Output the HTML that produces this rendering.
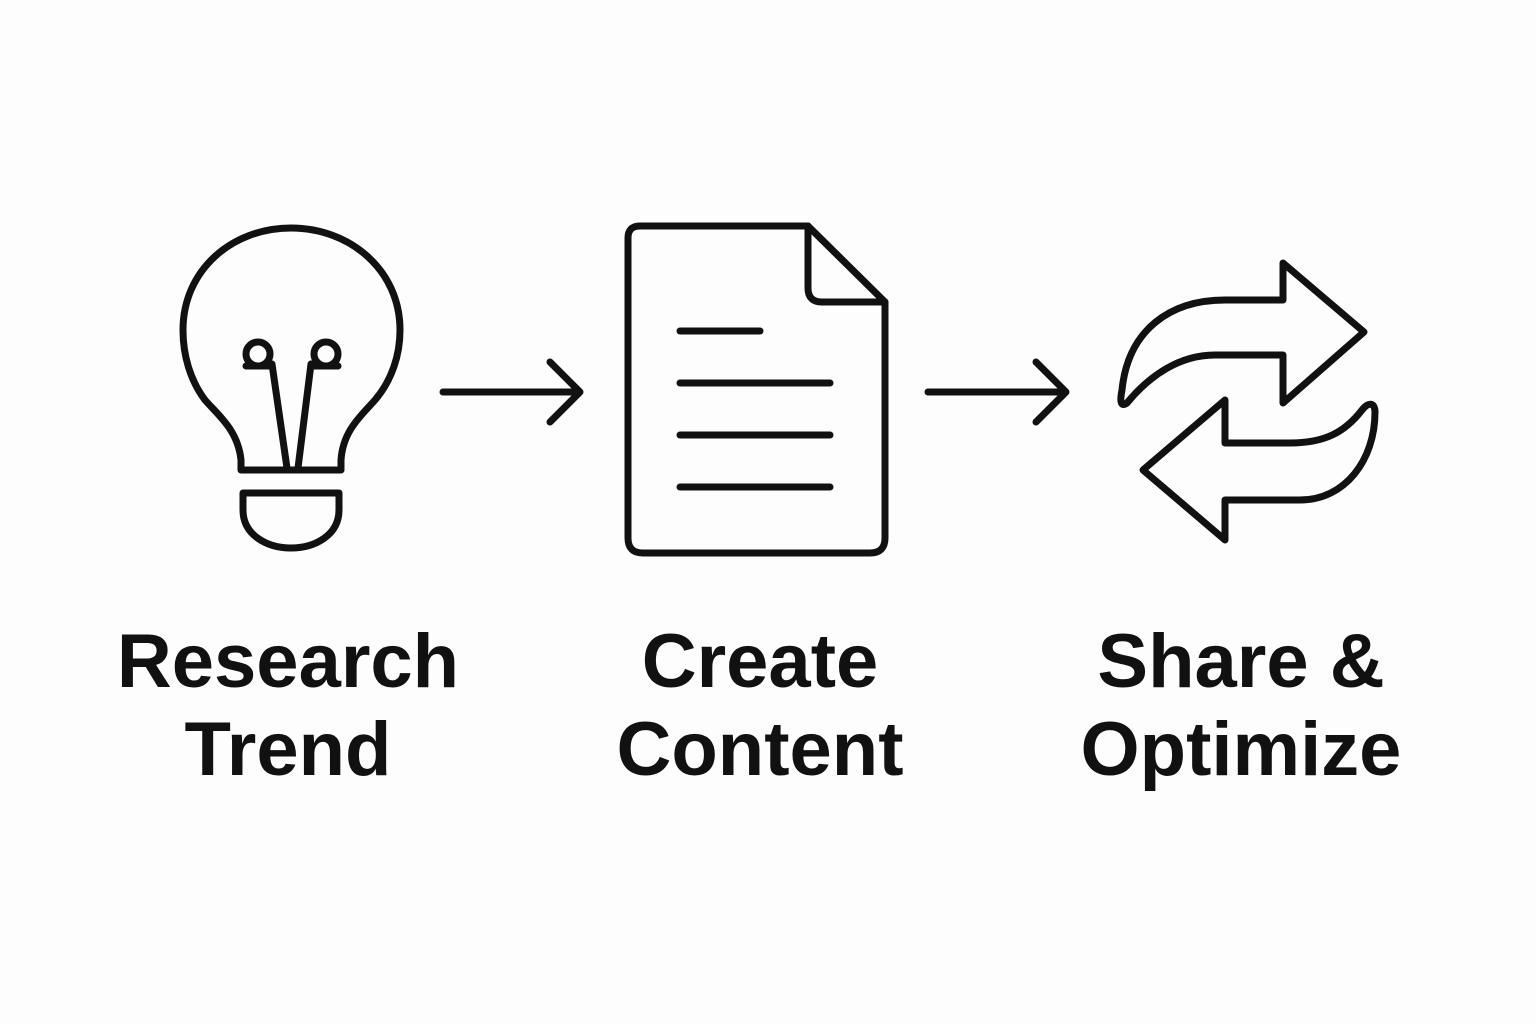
<!DOCTYPE html>
<html><head><meta charset="utf-8"><style>
html,body{margin:0;padding:0;background:#fdfdfd;}
.wrap{position:relative;width:1536px;height:1024px;overflow:hidden;}
svg{position:absolute;left:0;top:0;}
.lbl{position:absolute;width:500px;text-align:center;font-family:"Liberation Sans",sans-serif;font-weight:bold;font-size:76px;line-height:88px;color:#111;letter-spacing:0px;}
</style></head><body><div class="wrap">
<svg width="1536" height="1024" viewBox="0 0 1536 1024" fill="none" stroke="#111" stroke-width="7" stroke-linecap="round" stroke-linejoin="round">
<path d="M241,470 L241,460 C238,430 218,415 205,400 C190,380 183,355 183,330 C183,270 232,228 291,228 C350,228 400,270 400,330 C400,355 392,380 375,400 C362,415 343,430 341,460 L341,470 Z"/>
<path d="M243,493 L339,493 L339,510 C339,535 315,548 291,548 C267,548 243,535 243,510 Z"/>
<circle cx="258" cy="354" r="12"/><circle cx="326" cy="354" r="12"/>
<path d="M287,468 L272,364 M298,468 L311,364 M246,366 L272,366 M311,366 L338,366"/>
<path d="M628,238 Q628,226 640,226 L808,226 L885,302 L885,538 Q885,553 870,553 L643,553 Q628,553 628,538 Z"/>
<path d="M808,226 L808,288 Q808,302 822,302 L885,302"/>
<path d="M680,331 L760,331 M680,383 L830,383 M680,435 L830,435 M680,487 L830,487"/>
<path d="M443,392 L580,392 M550,362 L580,392 L550,422"/>
<path d="M928,392 L1066,392 M1036,362 L1066,392 L1036,422"/>
<path d="M1283,263 L1364,332 L1283,403 L1283,355 L1215,355 C1180,355 1150,375 1127,403 C1120,408 1120,400 1122,390 C1128,330 1170,300 1225,300 L1283,300 Z"/>
<path d="M1225,400 L1143,470 L1225,540 L1225,500 L1300,500 C1345,500 1375,460 1375,412 C1375,402 1368,402 1362,410 C1345,432 1325,443 1290,443 L1225,443 Z"/>
</svg>
<div class="lbl" style="left:38px;top:618px;">Research<br>Trend</div>
<div class="lbl" style="left:510px;top:618px;">Create<br>Content</div>
<div class="lbl" style="left:991px;top:618px;">Share &amp;<br>Optimize</div>
</div></body></html>
